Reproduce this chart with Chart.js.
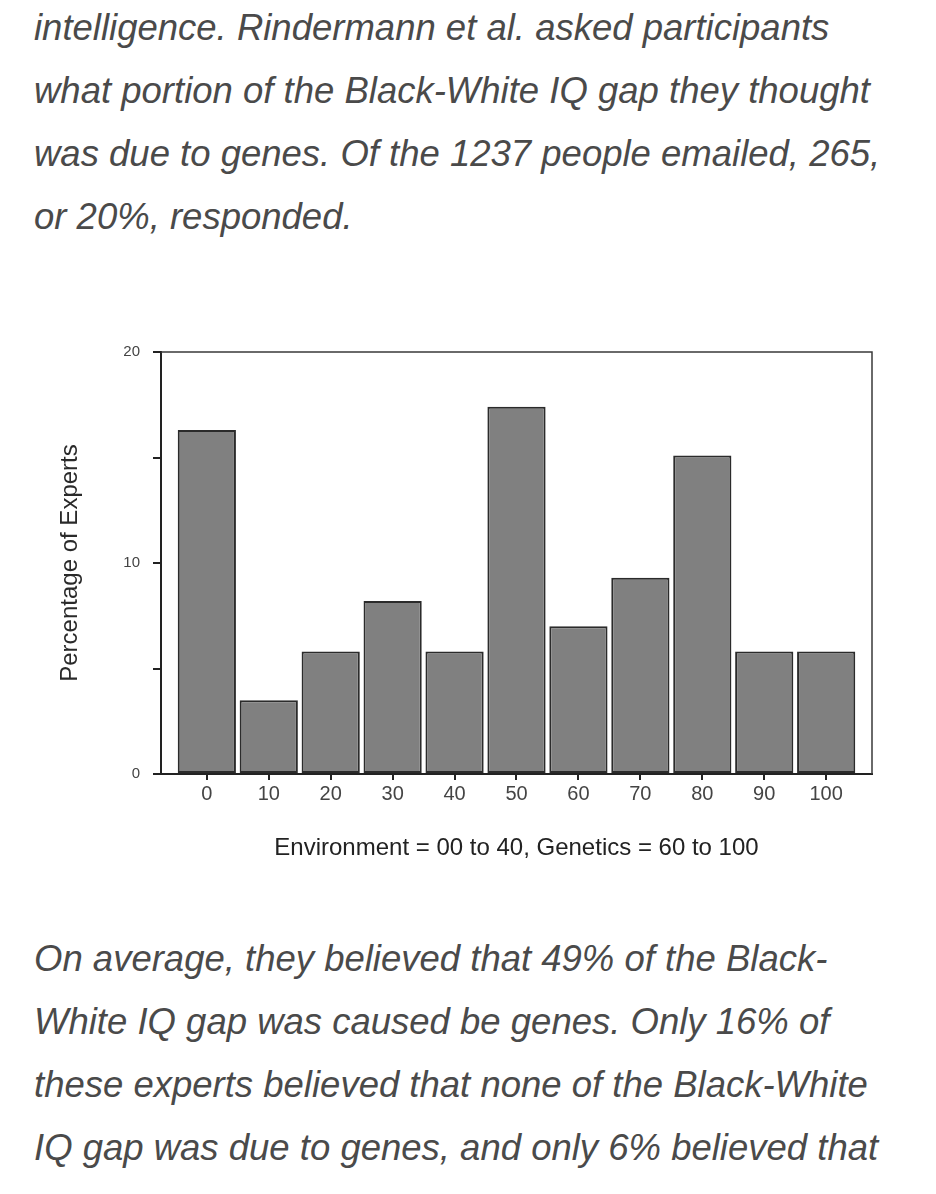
<!DOCTYPE html>
<html>
<head>
<meta charset="utf-8">
<script src="https://cdn.jsdelivr.net/npm/chart.js@4/dist/chart.umd.min.js"></script>
<style>
  html, body { margin: 0; padding: 0; background: #fff; }
  body { width: 936px; height: 1194px; position: relative; overflow: hidden; }
  .texto {
    position: absolute;
    left: 34px;
    font-family: "Liberation Sans", Arial, sans-serif;
    font-style: italic;
    font-size: 36.5px;
    line-height: 63px;
    color: #4a4a4a;
    white-space: nowrap;
  }
  #arriba { top: -4px; }
  #abajo { top: 927px; }
  #caja { position: absolute; left: 40px; top: 330px; width: 880px; height: 540px; }
</style>
</head>
<body>
<div class="texto" id="arriba">
  intelligence. Rindermann et al. asked participants<br>
  what portion of the Black-White IQ gap they thought<br>
  was due to genes. Of the 1237 people emailed, 265,<br>
  or 20%, responded.
</div>

<div id="caja"><canvas id="grafico"></canvas></div>

<div class="texto" id="abajo">
  On average, they believed that 49% of the Black-<br>
  White IQ gap was caused be genes. Only 16% of<br>
  these experts believed that none of the Black-White<br>
  IQ gap was due to genes, and only 6% believed that
</div>

<script>
/* histograma: % de expertos por atribución genética */

const puntajes = [0, 10, 20, 30, 40, 50, 60, 70, 80, 90, 100];
const pctExpertos = [16.3, 3.5, 5.8, 8.2, 5.8, 17.4, 7.0, 9.3, 15.1, 5.8, 5.8];
const ticksY = [0, 10, 20];
const tituloX = "Environment = 00 to 40, Genetics = 60 to 100";
const tituloY = "Percentage of Experts";

const FUENTE = "'Liberation Sans', Arial, sans-serif";

// marco superior y derecho del área del gráfico
const marco = {
  id: "marco",
  afterDatasetsDraw(chart) {
    const { ctx, chartArea: a } = chart;
    ctx.save();
    ctx.strokeStyle = "#3a3a3a";
    ctx.lineWidth = 1.5;
    ctx.beginPath();
    ctx.moveTo(a.left, a.top);
    ctx.lineTo(a.right, a.top);
    ctx.lineTo(a.right, a.bottom);
    ctx.stroke();
    ctx.restore();
  },
};

new Chart(document.getElementById("grafico"), {
  type: "bar",
  data: {
    datasets: [
      {
        data: puntajes.map((p, i) => ({ x: p, y: pctExpertos[i] })),
        backgroundColor: "#808080",
        borderColor: "#2b2b2b",
        borderWidth: 2,
        borderSkipped: false,
        categoryPercentage: 1,
        barPercentage: 0.94,
      },
    ],
  },
  options: {
    responsive: true,
    maintainAspectRatio: false,
    animation: false,
    layout: { padding: { top: 20, right: 48, left: 0, bottom: 0 } },
    plugins: { legend: { display: false }, tooltip: { enabled: false } },
    scales: {
      x: {
        type: "linear",
        offset: false,
        min: -7.4,
        max: 107.4,
        afterBuildTicks: (s) => {
          s.ticks = puntajes.map((v) => ({ value: v }));
        },
        afterFit: (s) => {
          s.height = 96;
        },
        grid: { offset: false, drawOnChartArea: false, tickLength: 6, tickColor: "#222", lineWidth: 2 },
        border: { display: true, color: "#222", width: 2 },
        ticks: { color: "#444", font: { family: FUENTE, size: 20 }, padding: 2, maxRotation: 0 },
        title: {
          display: true,
          text: tituloX,
          color: "#222",
          font: { family: FUENTE, size: 24 },
          padding: { top: 0, bottom: 7 },
        },
      },
      y: {
        min: 0,
        max: 20,
        afterFit: (s) => {
          s.width = 121;
        },
        grid: { drawOnChartArea: false, tickLength: 8, tickColor: "#222", lineWidth: 2 },
        border: { display: true, color: "#222", width: 2 },
        ticks: {
          stepSize: 5,
          padding: 13,
          color: "#444",
          font: { family: FUENTE, size: 15 },
          callback: (v) => (ticksY.includes(v) ? v : ""),
        },
        title: {
          display: true,
          text: tituloY,
          color: "#2a2a2a",
          font: { family: FUENTE, size: 24 },
          padding: { top: 16, bottom: 0 },
        },
      },
    },
  },
  plugins: [marco],
});
</script>
</body>
</html>
